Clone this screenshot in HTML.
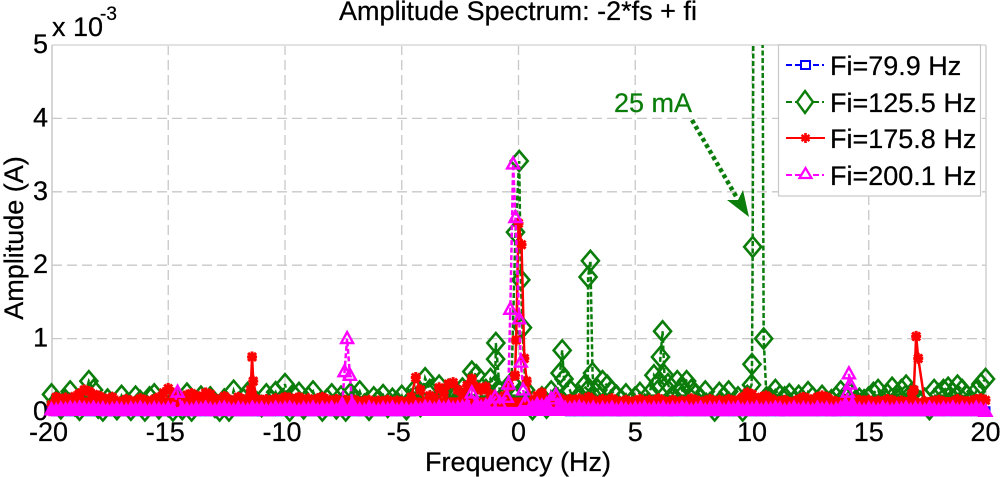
<!DOCTYPE html>
<html lang="en">
<head>
<meta charset="utf-8">
<title>Amplitude Spectrum: -2*fs + fi</title>
<style>
html,body{margin:0;padding:0;background:#fff;width:1000px;height:477px;overflow:hidden}
svg{display:block}
text{font-family:"Liberation Sans",sans-serif;font-size:27px;fill:#000;stroke:#000;stroke-width:.25px}
</style>
</head>
<body>
<svg id="chart" xmlns="http://www.w3.org/2000/svg" width="1000" height="477" viewBox="0 0 1000 477">
  <defs><clipPath id="plot-clip"><rect x="30" y="45" width="970" height="432"/></clipPath></defs>
  <g id="grid"></g>
  <g id="frame">
    <line x1="52" y1="45" x2="986" y2="45" stroke="#e2e2e2" stroke-width="2"/>
    <line x1="52" y1="45" x2="52" y2="412" stroke="#c8c8c8" stroke-width="1.5"/>
    <line x1="986" y1="45" x2="986" y2="412" stroke="#d0d0d0" stroke-width="1.5"/>
  </g>
  <g id="ticks"></g>
  <g id="marks" clip-path="url(#plot-clip)"></g>

  <text x="518" y="20" text-anchor="middle">Amplitude Spectrum: -2*fs + fi</text>
  <text x="518" y="471" text-anchor="middle">Frequency (Hz)</text>
  <text transform="translate(23,238) rotate(-90)" text-anchor="middle">Amplitude (A)</text>
  <text x="52" y="36">x 10</text>
  <text x="100" y="20" style="font-size:19px">-3</text>

  <g>
    <text x="614" y="112" style="fill:#0a7d0a;stroke:#0a7d0a">25 mA</text>
    <line x1="692" y1="120" x2="737" y2="198" stroke="#0a7d0a" stroke-width="4.5" stroke-dasharray="4 3"/>
    <polygon points="749,217 727,200 738,200 743,190" fill="#0a7d0a"/>
  </g>

  <g>
    <rect x="778.5" y="45" width="202" height="151" fill="#fff" stroke="#c8c8c8" stroke-width="1.2"/>
    <g>
      <line x1="786" y1="65" x2="824" y2="65" stroke="#0000ff" stroke-width="2" stroke-dasharray="6 3"/>
      <rect x="801" y="61" width="9" height="8" fill="#fff" stroke="#0000ff" stroke-width="2"/>
      <text x="830" y="75">Fi=79.9 Hz</text>
    </g>
    <g>
      <line x1="786" y1="102" x2="824" y2="102" stroke="#0a7d0a" stroke-width="2" stroke-dasharray="6 3"/>
      <polygon points="805,91 813,102 805,113 797,102" fill="#fff" stroke="#0a7d0a" stroke-width="2.4"/>
      <text x="830" y="112">Fi=125.5 Hz</text>
    </g>
    <g>
      <line x1="786" y1="138" x2="825" y2="138" stroke="#ff0000" stroke-width="2"/>
      <path d="M805.5 133V143M801.5 135L809.5 141M801.5 141L809.5 135" fill="none" stroke="#ff0000" stroke-width="2.6"/>
      <text x="830" y="148">Fi=175.8 Hz</text>
    </g>
    <g>
      <line x1="786" y1="175" x2="824" y2="175" stroke="#ff00ff" stroke-width="2" stroke-dasharray="6 3"/>
      <polygon points="805.5,168 811.5,178 799.5,178" fill="#fff" stroke="#ff00ff" stroke-width="2.2"/>
      <text x="830" y="185">Fi=200.1 Hz</text>
    </g>
  </g>
</svg>

<script>
const xTickValues = [-20,-15,-10,-5,0,5,10,15,20];
const xTickLabels = ["-20","-15","-10","-5","0","5","10","15","20"];
const yTickValues = [0,1,2,3,4,5];
const yTickLabels = ["0","1","2","3","4","5"];

const freqHz = [
-20,-19.8,-19.6,-19.4,-19.2,-19,-18.8,-18.6,-18.4,-18.2,-18,-17.8,-17.6,-17.4,-17.2,-17,-16.8,-16.6,-16.4,-16.2,-16,-15.8,-15.6,-15.4,-15.2,
-15,-14.8,-14.6,-14.4,-14.2,-14,-13.8,-13.6,-13.4,-13.2,-13,-12.8,-12.6,-12.4,-12.2,-12,-11.8,-11.6,-11.4,-11.2,-11,-10.8,-10.6,-10.4,-10.2,
-10,-9.8,-9.6,-9.4,-9.2,-9,-8.8,-8.6,-8.4,-8.2,-8,-7.8,-7.6,-7.4,-7.2,-7,-6.8,-6.6,-6.4,-6.2,-6,-5.8,-5.6,-5.4,-5.2,
-5,-4.8,-4.6,-4.4,-4.2,-4,-3.8,-3.6,-3.4,-3.2,-3,-2.8,-2.6,-2.4,-2.2,-2,-1.8,-1.6,-1.4,-1.2,-1,-0.8,-0.6,-0.4,-0.2,
0,0.2,0.4,0.6,0.8,1,1.2,1.4,1.6,1.8,2,2.2,2.4,2.6,2.8,3,3.2,3.4,3.6,3.8,4,4.2,4.4,4.6,4.8,
5,5.2,5.4,5.6,5.8,6,6.2,6.4,6.6,6.8,7,7.2,7.4,7.6,7.8,8,8.2,8.4,8.6,8.8,9,9.2,9.4,9.6,9.8,
10,10.2,10.4,10.6,10.8,11,11.2,11.4,11.6,11.8,12,12.2,12.4,12.6,12.8,13,13.2,13.4,13.6,13.8,14,14.2,14.4,14.6,14.8,
15,15.2,15.4,15.6,15.8,16,16.2,16.4,16.6,16.8,17,17.2,17.4,17.6,17.8,18,18.2,18.4,18.6,18.8,19,19.2,19.4,19.6,19.8,
20];

const blueAmp = [
.02,.01,.02,.01,.02,.01,.02,.02,.01,.02,.01,.02,.01,.01,.02,.01,.02,.01,.02,.01,.01,.02,.01,.02,.01,
.02,.01,.02,.01,.02,.01,.01,.02,.01,.02,.01,.02,.01,.01,.02,.01,.02,.01,.02,.01,.01,.02,.01,.02,.01,
.02,.01,.01,.02,.01,.02,.01,.02,.01,.01,.02,.01,.02,.01,.02,.01,.02,.01,.02,.01,.02,.01,.02,.01,.02,
.01,.02,.01,.02,.02,.03,.02,.02,.03,.02,.02,.03,.02,.03,.02,.03,.02,.02,.03,.02,.03,.03,.04,.05,.07,
.12,.07,.04,.03,.03,.02,.02,.03,.03,.02,.02,.01,.02,.01,.02,.01,.02,.01,.02,.01,.02,.01,.01,.02,.01,
.02,.01,.02,.01,.02,.01,.02,.01,.01,.02,.01,.02,.01,.02,.01,.02,.01,.01,.02,.01,.02,.01,.02,.01,.02,
.01,.02,.01,.02,.01,.02,.01,.01,.02,.01,.02,.01,.02,.01,.02,.01,.02,.01,.01,.02,.01,.02,.01,.02,.01,
.02,.01,.02,.01,.01,.02,.01,.02,.01,.02,.01,.02,.01,.01,.02,.01,.02,.01,.02,.01,.02,.01,.02,.01,.02,
.01];

const greenAmp = [
.24,.14,.05,.16,.28,.09,.03,.2,.42,.3,.06,.02,.17,.12,.04,.22,.1,.03,.21,.15,.02,.2,.24,.05,.13,
.08,.02,.18,.04,.25,.02,.12,.21,.1,.2,.07,.02,.17,.02,.29,.12,.18,.26,.1,.13,.08,.24,.15,.27,.14,
.38,.02,.22,.26,.05,.2,.28,.1,.02,.17,.24,.05,.21,.02,.25,.15,.28,.1,.03,.2,.16,.23,.07,.18,.13,
.22,.04,.17,.32,.08,.46,.3,.12,.36,.15,.3,.22,.24,.32,.14,.55,.5,.2,.3,.45,.36,.28,.2,.4,.3,
.22,.3,.16,.04,.12,.2,.06,.28,.2,.45,.17,.3,.1,.22,.35,.2,.22,.3,.42,.36,.28,.22,.16,.24,.12,
.2,.26,.1,.24,.5,.3,.52,.38,.22,.42,.3,.42,.3,.24,.18,.28,.12,.02,.26,.2,.28,.1,.2,.02,.22,
.35,.4,.2,.27,.18,.3,.22,.2,.24,.14,.22,.12,.27,.2,.1,.22,.12,.16,.2,.28,.22,.25,.14,.18,.16,
.2,.26,.3,.14,.24,.33,.18,.3,.36,.24,.2,.14,.18,.04,.3,.24,.3,.33,.26,.36,.3,.22,.14,.28,.38,
.45];

const greenPeakFreq = [-1.02,-0.98,-0.97,-0.3,-0.13,0.03,0.1,0.17,0.3,1.78,1.87,1.95,2.97,2.98,3.08,3.17,3.25,6.0,6.08,6.17,6.25,9.98,10,10.03,10.23,10.5,10.62];
const greenPeakAmp  = [0.35,0.72,0.94,0.4,2.45,3.42,1.8,1.15,0.3,0.53,0.84,0.45,0.3,1.84,2.06,0.53,0.2,0.4,0.75,1.1,0.5,0.37,0.65,2.25,25,1.0,0.2];

const redAmp = [
.1,.2,.17,.19,.16,.21,.25,.3,.28,.24,.22,.19,.16,.2,.15,.13,.17,.15,.14,.18,.16,.13,.17,.2,.26,
.32,.26,.2,.17,.23,.25,.22,.2,.26,.24,.18,.16,.21,.17,.15,.2,.17,.15,.14,.17,.16,.17,.15,.18,.16,
.2,.19,.17,.2,.16,.18,.15,.18,.2,.17,.15,.17,.14,.16,.15,.16,.13,.15,.16,.13,.15,.14,.16,.13,.15,
.14,.13,.2,.47,.3,.13,.22,.18,.33,.26,.38,.4,.3,.24,.36,.45,.34,.3,.34,.24,.2,.16,.22,.35,.28,
.3,.35,.2,.14,.22,.26,.16,.12,.2,.18,.14,.17,.16,.18,.14,.2,.16,.13,.17,.14,.18,.15,.13,.16,.12,
.15,.17,.13,.16,.14,.18,.15,.13,.16,.12,.15,.14,.18,.16,.13,.15,.17,.14,.16,.13,.17,.15,.16,.2,.26,
.24,.18,.2,.22,.18,.15,.14,.16,.13,.14,.17,.2,.18,.15,.2,.22,.2,.16,.14,.13,.16,.14,.17,.16,.15,
.16,.13,.15,.14,.17,.16,.13,.15,.13,.14,.15,.16,.14,.13,.15,.16,.14,.13,.14,.17,.15,.14,.15,.17,.18,
.16];

const redPeakFreq = [-11.5,-11.47,-11.41,-11.36,-0.15,-0.1,0,0.13,0.25,0.35,16.85,16.93,17.03,17.12];
const redPeakAmp  = [0.2,0.3,0.75,0.42,0.5,0.98,2.57,2.28,0.73,0.42,0.25,0.3,1.03,0.73];

const magentaAmp = [
.03,.02,.04,.03,.05,.04,.05,.04,.03,.05,.03,.04,.02,.03,.04,.03,.02,.04,.03,.05,.03,.02,.04,.03,.02,
.04,.03,.27,.04,.03,.02,.04,.03,.05,.03,.02,.04,.05,.03,.02,.04,.03,.02,.05,.03,.04,.02,.03,.05,.03,
.04,.05,.03,.02,.04,.03,.05,.02,.04,.03,.05,.02,.04,.03,.02,.04,.03,.02,.05,.03,.02,.04,.03,.05,.02,
.04,.03,.02,.05,.03,.06,.05,.03,.06,.04,.06,.04,.05,.06,.08,.26,.1,.06,.08,.12,.2,.12,.16,.38,.45,
.3,.1,.05,.06,.1,.08,.1,.18,.23,.1,.05,.04,.05,.06,.04,.03,.05,.02,.04,.03,.05,.02,.04,.03,.02,
.04,.03,.05,.02,.04,.03,.05,.02,.04,.03,.05,.04,.02,.03,.05,.02,.04,.03,.05,.02,.04,.03,.05,.02,.04,
.03,.05,.02,.04,.03,.05,.04,.02,.03,.05,.02,.04,.03,.02,.05,.03,.04,.02,.03,.05,.03,.02,.04,.03,.02,
.04,.03,.02,.05,.03,.02,.04,.03,.05,.02,.04,.03,.02,.05,.03,.02,.04,.03,.05,.02,.04,.03,.02,.05,.03,
.01];

const magentaPeakFreq = [-7.55,-7.45,-7.34,-7.22,-7.12,-0.5,-0.43,-0.35,-0.23,-0.13,0.03,0.1,0.2,0.3,14.0,14.1,14.15,14.2,14.3];
const magentaPeakAmp  = [0.1,0.55,1.0,0.5,0.1,0.2,0.38,1.4,3.38,2.65,1.27,0.68,0.3,0.14,0.1,0.27,0.52,0.38,0.1];

const SVGNS = "http://www.w3.org/2000/svg";
const xScale = f => 518.5 + f * 23.35;
const yScale = a => 412 - a * 73.4;

function mk(parent, tag, props) {
  const el = document.createElementNS(SVGNS, tag);
  for (const k in props) el.setAttribute(k, props[k]);
  parent.appendChild(el);
  return el;
}

const gridG = document.getElementById("grid");
const ticksG = document.getElementById("ticks");
xTickValues.forEach((v, i) => {
  if (i > 0 && i < xTickValues.length - 1) {
    const gl = mk(gridG, "line", {x1: xScale(v), y1: 45, x2: xScale(v), y2: 412, stroke: "#c8c8c8", "stroke-width": 1.3, "stroke-dasharray": "10 5"});
    
    
  }
  const t = mk(ticksG, "text", {x: xScale(v) - (v < 0 ? 3 : 0), y: 441, "text-anchor": "middle"});
  t.textContent = xTickLabels[i];
  
  
});
yTickValues.forEach((v, i) => {
  if (i > 0 && i < yTickValues.length - 1) {
    const gl = mk(gridG, "line", {x1: 52, y1: yScale(v), x2: 986, y2: yScale(v), stroke: "#c8c8c8", "stroke-width": 1.3, "stroke-dasharray": "10 5"});
    
    
  }
  const t = mk(ticksG, "text", {x: 48, y: yScale(v) + 8, "text-anchor": "end"});
  t.textContent = yTickLabels[i];
  
  
});

function mergePoints(base, peakF, peakA) {
  const pts = [];
  freqHz.forEach((f, i) => {
    if (!peakF.some(p => Math.abs(p - f) < 0.12)) pts.push([f, base[i]]);
  });
  peakF.forEach((f, i) => pts.push([f, peakA[i]]));
  pts.sort((a, b) => a[0] - b[0]);
  return pts;
}

function drawSeries(name, pts, color, dash, width, marker, fillLimit, bandCap, bandDrop) {
  const g = mk(document.getElementById("marks"), "g", {});
  
  
  const coords = pts.map(p => [xScale(p[0]), yScale(p[1])]);
  if (bandCap > 0) {
    const top = pts.map(p => xScale(p[0]) + "," + yScale(Math.min(p[1], bandCap))).join(" ");
    const base = yScale(0) + bandDrop;
    const a = mk(g, "polygon", {points: top + " " + xScale(20) + "," + base + " " + xScale(-20) + "," + base, fill: color});
    
    
  }
  const l = mk(g, "polyline", {points: coords.map(c => c.join(",")).join(" "), fill: "none", stroke: color, "stroke-width": width});
  if (dash) l.setAttribute("stroke-dasharray", dash);
  
  
  pts.forEach((p, i) => {
    const x = coords[i][0], y = coords[i][1];
    const filled = p[1] < fillLimit;
    let m;
    if (marker === "square") {
      m = mk(g, "rect", {x: x - 4, y: y - 4, width: 8, height: 8, fill: color, stroke: color, "stroke-width": 2});
    } else if (marker === "diamond") {
      m = mk(g, "polygon", {points: `${x},${y-10} ${x+8.5},${y} ${x},${y+10} ${x-8.5},${y}`, fill: "none", stroke: color, "stroke-width": 2.6});
    } else if (marker === "star") {
      m = mk(g, "path", {d: `M${x-5} ${y}H${x+5}M${x} ${y-5.5}V${y+5.5}M${x-4} ${y-4}L${x+4} ${y+4}M${x-4} ${y+4}L${x+4} ${y-4}`, fill: "none", stroke: color, "stroke-width": 3});
    } else {
      m = mk(g, "polygon", {points: `${x},${y-6.5} ${x+6},${y+4.5} ${x-6},${y+4.5}`, fill: filled ? color : "none", stroke: color, "stroke-width": 2.4});
    }
    
    
  });
}

drawSeries("series-fi-79-9", mergePoints(blueAmp, [], []), "#0000ff", "5 3", 2, "square", 9, 0, 0);
drawSeries("series-fi-125-5", mergePoints(greenAmp, greenPeakFreq, greenPeakAmp), "#0a7d0a", "5 2.5", 2.5, "diamond", 0, 0.24, 0);
drawSeries("series-fi-175-8", mergePoints(redAmp, redPeakFreq, redPeakAmp), "#ff0000", "", 2.5, "star", 0, 0.2, 0);
drawSeries("series-fi-200-1", mergePoints(magentaAmp, magentaPeakFreq, magentaPeakAmp), "#ff00ff", "5 2.5", 2.5, "triangle", 0.12, 0.07, 4);
</script>
</body>
</html>
